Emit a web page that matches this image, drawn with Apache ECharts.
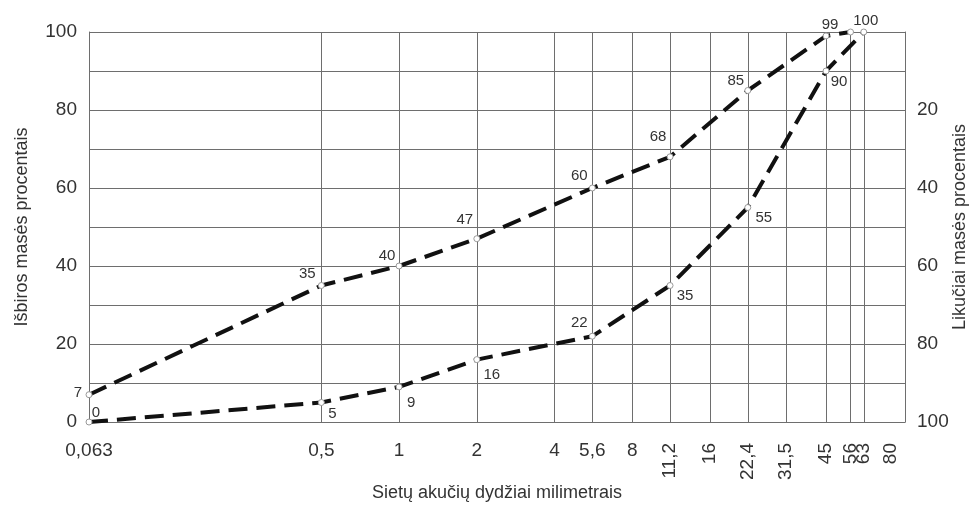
<!DOCTYPE html>
<html>
<head>
<meta charset="utf-8">
<script src="https://cdn.jsdelivr.net/npm/echarts@6/dist/echarts.min.js"></script>
<style>
  html, body { margin: 0; padding: 0; background: #fff; }
  #chart { width: 972px; height: 506px; }
</style>
</head>
<body>
<div id="chart"></div>
<script>
// sieve sizes (mm) and their printed labels
var sieveSizes = [0.063, 0.5, 1, 2, 4, 5.6, 8, 11.2, 16, 22.4, 31.5, 45, 56, 63, 80]
var sieveLabels = ['0,063', '0,5', '1', '2', '4', '5,6', '8', '11,2', '16', '22,4', '31,5', '45', '56', '63', '80']
var flatLabelSizes = [0.063, 0.5, 1, 2, 4, 5.6, 8] // horizontal labels
var rotatedLabelSizes = [11.2, 16, 22.4, 31.5, 45, 56, 63, 80] // vertical labels
var gridSizes = [0.5, 1, 2, 4, 5.6, 8, 11.2, 16, 22.4, 31.5, 45, 56, 63]

// upper curve
var upperX = [0.063, 0.5, 1, 2, 5.6, 11.2, 22.4, 45, 56]
var upperY = [7, 35, 40, 47, 60, 68, 85, 99, 100]
// lower curve
var lowerX = [0.063, 0.5, 1, 2, 5.6, 11.2, 22.4, 45, 63]
var lowerY = [0, 5, 9, 16, 22, 35, 55, 90, 100]

// label offsets from the point (px), null = no label
var upperLabelOffset = [[-11, -2], [-14, -12], [-12, -10], [-12, -19], [-13, -12], [-12, -20], [-12, -10], [4, -11], null]
var lowerLabelOffset = [[7, -9], [11, 11], [12, 16], [15, 15], [-13, -13], [15, 10], [16, 10], [13, 11], [2, -11]]

var chart = echarts.init(document.getElementById('chart'))

function sieveText(v) {
  for (var i = 0; i < sieveSizes.length; i++) {
    if (Math.abs(v - sieveSizes[i]) / sieveSizes[i] < 1e-4) return sieveLabels[i]
  }
  return ''
}

function makeData(xs, ys, offsets) {
  return xs.map(function(x, i) {
    var off = offsets[i]
    return {
      value: [x, ys[i]],
      label: off ? { show: true, position: 'inside', offset: off } : { show: false }
    }
  })
}

var textColor = '#333'
var gridColor = '#6e6e6e'
var font = 'Liberation Sans, Arial, sans-serif'

var lineSeries = function(name, xs, ys, offsets) {
  return {
    name: name,
    type: 'line',
    xAxisIndex: 0,
    yAxisIndex: 0,
    data: makeData(xs, ys, offsets),
    symbol: 'circle',
    symbolSize: 6,
    itemStyle: { color: '#fff', borderColor: '#999', borderWidth: 1 },
    lineStyle: { color: '#111', width: 4, type: [19, 9] },
    label: {
      color: textColor,
      fontSize: 15,
      fontFamily: font,
      formatter: function(p) { return p.value[1] }
    },
    z: 3,
    animation: false
  }
}

var xBase = {
  type: 'log',
  min: 0.063,
  max: 91,
  position: 'bottom',
  nameMoveOverlap: false,
  nameTextStyle: { color: textColor, fontSize: 18, fontFamily: font }
}

chart.setOption({
  animation: false,
  grid: { left: 89, right: 67, top: 32, bottom: 84, outerBoundsMode: 'none', containLabel: false },
  xAxis: [
    Object.assign({}, xBase, {
      name: 'Sietų akučių dydžiai milimetrais',
      nameLocation: 'middle',
      nameGap: 62,
      axisLine: { show: true, lineStyle: { color: gridColor, width: 1 } },
      axisTick: { show: false, customValues: gridSizes },
      splitLine: { show: true, lineStyle: { color: gridColor, width: 1 } },
      minorSplitLine: { show: false },
      axisLabel: {
        customValues: flatLabelSizes,
        formatter: sieveText,
        color: textColor,
        fontSize: 19,
        margin: 19,
        fontFamily: font
      }
    }),
    Object.assign({}, xBase, {
      axisLine: { show: false },
      axisTick: { show: false },
      splitLine: { show: false },
      axisLabel: {
        customValues: rotatedLabelSizes,
        formatter: sieveText,
        rotate: 90,
        color: textColor,
        fontSize: 19,
        margin: 21,
        fontFamily: font
      }
    })
  ],
  yAxis: [
    {
      type: 'value',
      min: 0,
      max: 100,
      interval: 10,
      name: 'Išbiros masės procentais',
      nameLocation: 'middle',
      nameGap: 58,
      nameMoveOverlap: false,
      nameTextStyle: { color: textColor, fontSize: 18, fontFamily: font },
      axisLine: { show: true, lineStyle: { color: gridColor, width: 1 } },
      axisTick: { show: false },
      splitLine: { show: true, lineStyle: { color: gridColor, width: 1 } },
      axisLabel: {
        color: textColor,
        fontSize: 19,
        margin: 12,
        fontFamily: font,
        formatter: function(v) { return v % 20 === 0 ? v : '' }
      }
    },
    {
      type: 'value',
      min: 0,
      max: 100,
      interval: 10,
      inverse: true,
      position: 'right',
      name: 'Likučiai masės procentais',
      nameLocation: 'middle',
      nameGap: 46,
      nameMoveOverlap: false,
      nameTextStyle: { color: textColor, fontSize: 18, fontFamily: font },
      axisLine: { show: true, lineStyle: { color: gridColor, width: 1 } },
      axisTick: { show: false },
      splitLine: { show: false },
      axisLabel: {
        color: textColor,
        fontSize: 19,
        margin: 12,
        fontFamily: font,
        formatter: function(v) { return v % 20 === 0 && v > 0 ? v : '' }
      }
    }
  ],
  series: [
    lineSeries('upper', upperX, upperY, upperLabelOffset),
    lineSeries('lower', lowerX, lowerY, lowerLabelOffset)
  ]
})
</script>
</body>
</html>
